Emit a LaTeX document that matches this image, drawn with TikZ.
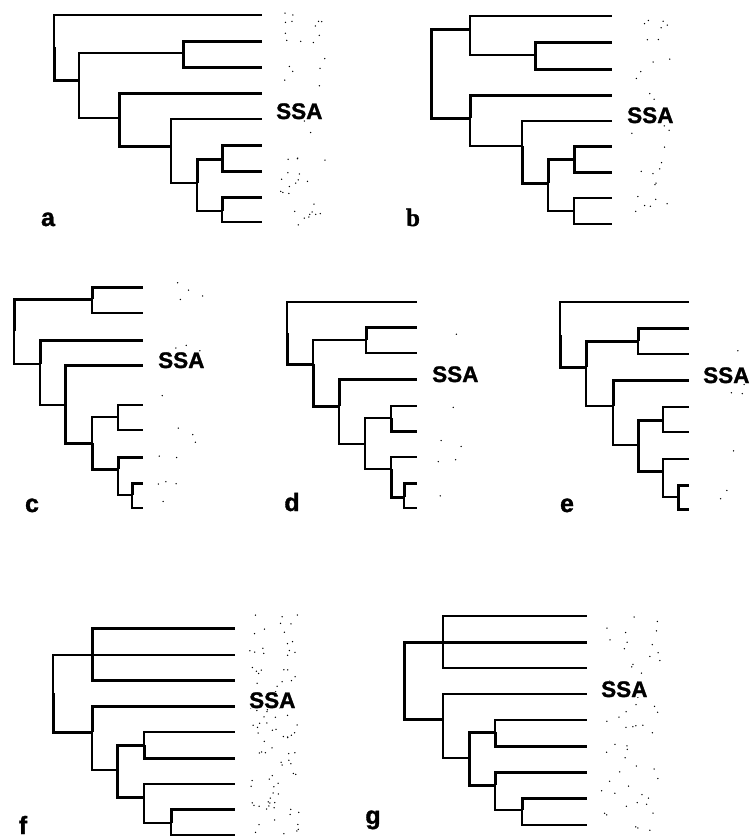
\documentclass[tikz,border=0pt]{standalone}
\usepackage{fontspec}
\setsansfont{Liberation Sans}[BoldFeatures = {FakeBold = 1.3}]
\newfontfamily\serifLabel{Liberation Serif}[BoldFeatures = {FakeBold = 1.3}]
\usetikzlibrary{calc}

\begin{document}
\begin{tikzpicture} [x = 1pt, y = -1pt,
	thinBranch/.style = {line width = 1.8pt},
	boldBranch/.style = {line width = 3pt},
	panelLabel/.style = {inner sep = 0pt, anchor = base, font = \sffamily\bfseries\fontsize{25}{27}\selectfont},
	ssaLabel/.style = {inner sep = 0pt, anchor = base west, fill = white, font = \sffamily\bfseries\fontsize{22.5}{25}\selectfont},
	speck/.style = {fill = black}]

	\useasboundingbox (0, 0) rectangle (755, 838);

		% Define coordinates.

	%tree a
	\coordinate (ar) at (54, 47);
	\coordinate (an1) at (79, 80);
	\coordinate (an2) at (183, 53);
	\coordinate (an3) at (119, 118);
	\coordinate (an4) at (171, 146);
	\coordinate (an5) at (197, 183);
	\coordinate (an6) at (222, 159);
	\coordinate (an7) at (222, 211);
	\coordinate (a1) at (262, 15);  \coordinate (a2) at (262, 41);  \coordinate (a3) at (262, 67);
	\coordinate (a4) at (262, 93);  \coordinate (a5) at (262, 119); \coordinate (a6) at (262, 145);
	\coordinate (a7) at (262, 171); \coordinate (a8) at (262, 197); \coordinate (a9) at (262, 222);

	%tree b
	\coordinate (br) at (431, 73);
	\coordinate (bn1) at (470, 29);
	\coordinate (bn2) at (470, 118);
	\coordinate (bn3) at (535, 55);
	\coordinate (bn4) at (522, 146);
	\coordinate (bn5) at (548, 183);
	\coordinate (bn6) at (574, 159);
	\coordinate (bn7) at (574, 211);
	\coordinate (b1) at (612, 16);  \coordinate (b2) at (612, 42);  \coordinate (b3) at (612, 69);
	\coordinate (b4) at (612, 95);  \coordinate (b5) at (612, 121); \coordinate (b6) at (612, 146);
	\coordinate (b7) at (612, 172); \coordinate (b8) at (612, 198); \coordinate (b9) at (612, 224);

	%tree c
	\coordinate (cr) at (14, 331);
	\coordinate (cn1) at (92, 299);
	\coordinate (cn2) at (40, 364);
	\coordinate (cn3) at (65, 405);
	\coordinate (cn4) at (92, 443);
	\coordinate (cn5) at (118, 417);
	\coordinate (cn6) at (118, 469);
	\coordinate (cn7) at (132, 495);
	\coordinate (c1) at (143, 287); \coordinate (c2) at (143, 313); \coordinate (c3) at (143, 340);
	\coordinate (c4) at (143, 365); \coordinate (c5) at (143, 405); \coordinate (c6) at (143, 430);
	\coordinate (c7) at (143, 457); \coordinate (c8) at (143, 483); \coordinate (c9) at (143, 508);

	%tree d
	\coordinate (dr) at (287, 333);
	\coordinate (dn1) at (313, 364);
	\coordinate (dn2) at (366, 340);
	\coordinate (dn3) at (339, 406);
	\coordinate (dn4) at (365, 444);
	\coordinate (dn5) at (391, 418);
	\coordinate (dn6) at (391, 469);
	\coordinate (dn7) at (404, 497);
	\coordinate (d1) at (417, 302); \coordinate (d2) at (417, 327); \coordinate (d3) at (417, 353);
	\coordinate (d4) at (417, 379); \coordinate (d5) at (417, 406); \coordinate (d6) at (417, 431);
	\coordinate (d7) at (417, 457); \coordinate (d8) at (417, 483); \coordinate (d9) at (417, 508);

	%tree e
	\coordinate (er) at (560, 335);
	\coordinate (en1) at (586, 367);
	\coordinate (en2) at (638, 341);
	\coordinate (en3) at (613, 406);
	\coordinate (en4) at (638, 445);
	\coordinate (en5) at (663, 420);
	\coordinate (en6) at (663, 471);
	\coordinate (en7) at (678, 497);
	\coordinate (e1) at (689, 302); \coordinate (e2) at (689, 328); \coordinate (e3) at (689, 354);
	\coordinate (e4) at (689, 380); \coordinate (e5) at (689, 407); \coordinate (e6) at (689, 432);
	\coordinate (e7) at (689, 459); \coordinate (e8) at (689, 485); \coordinate (e9) at (689, 509);

	%tree f
	\coordinate (fr) at (53, 693);
	\coordinate (fn1) at (92, 655);
	\coordinate (fn2) at (92, 732);
	\coordinate (fn3) at (117, 770);
	\coordinate (fn4) at (144, 745);
	\coordinate (fn5) at (144, 797);
	\coordinate (fn6) at (171, 823);
	\coordinate (f1) at (235, 628); \coordinate (f2) at (235, 655); \coordinate (f3) at (235, 680);
	\coordinate (f4) at (235, 706); \coordinate (f5) at (235, 732); \coordinate (f6) at (235, 758);
	\coordinate (f7) at (235, 784); \coordinate (f8) at (235, 809); \coordinate (f9) at (235, 835);

	%tree g
	\coordinate (gr) at (404, 680);
	\coordinate (gn1) at (443, 642);
	\coordinate (gn2) at (443, 719);
	\coordinate (gn3) at (469, 758);
	\coordinate (gn4) at (495, 732);
	\coordinate (gn5) at (495, 785);
	\coordinate (gn6) at (522, 810);
	\coordinate (g1) at (587, 616); \coordinate (g2) at (587, 642); \coordinate (g3) at (587, 668);
	\coordinate (g4) at (587, 694); \coordinate (g5) at (587, 720); \coordinate (g6) at (587, 746);
	\coordinate (g7) at (587, 772); \coordinate (g8) at (587, 798); \coordinate (g9) at (587, 825);

% Draw speckles (faded names).

	\pgfmathsetseed{17}
	\foreach \i in {1,...,45} \fill[speck] ({280 + 46*rnd}, {3 + 222*rnd}) circle (0.75);
	\foreach \i in {1,...,30} \fill[speck] ({628 + 45*rnd}, {8 + 220*rnd}) circle (0.75);
	\foreach \i in {1,...,20} \fill[speck] ({158 + 45*rnd}, {275 + 235*rnd}) circle (0.75);
	\foreach \i in {1,...,8} \fill[speck] ({432 + 35*rnd}, {318 + 190*rnd}) circle (0.75);
	\foreach \i in {1,...,7} \fill[speck] ({704 + 45*rnd}, {296 + 214*rnd}) circle (0.75);
	\foreach \i in {1,...,95} \fill[speck] ({249 + 50*rnd}, {612 + 224*rnd}) circle (0.75);
	\foreach \i in {1,...,55} \fill[speck] ({600 + 60*rnd}, {606 + 226*rnd}) circle (0.75);

% Draw branches.

	%tree a
	\draw[thinBranch] (ar) |- (a1);
	\draw[boldBranch] (ar) |- (an1);
	\draw[thinBranch] (an1) |- (an2);
	\draw[thinBranch] (an1) |- (an3);
	\draw[boldBranch] (an2) |- (a2);
	\draw[boldBranch] (an2) |- (a3);
	\draw[boldBranch] (an3) |- (a4);
	\draw[boldBranch] (an3) |- (an4);
	\draw[thinBranch] (an4) |- (a5);
	\draw[thinBranch] (an4) |- (an5);
	\draw[boldBranch] (an5) |- (an6);
	\draw[thinBranch] (an5) |- (an7);
	\draw[boldBranch] (an6) |- (a6);
	\draw[boldBranch] (an6) |- (a7);
	\draw[boldBranch] (an7) |- (a8);
	\draw[thinBranch] (an7) |- (a9);

	%tree b
	\draw[boldBranch] (br) |- (bn1);
	\draw[boldBranch] (br) |- (bn2);
	\draw[thinBranch] (bn1) |- (b1);
	\draw[thinBranch] (bn1) |- (bn3);
	\draw[boldBranch] (bn3) |- (b2);
	\draw[boldBranch] (bn3) |- (b3);
	\draw[boldBranch] (bn2) |- (b4);
	\draw[thinBranch] (bn2) |- (bn4);
	\draw[thinBranch] (bn4) |- (b5);
	\draw[boldBranch] (bn4) |- (bn5);
	\draw[boldBranch] (bn5) |- (bn6);
	\draw[thinBranch] (bn5) |- (bn7);
	\draw[boldBranch] (bn6) |- (b6);
	\draw[boldBranch] (bn6) |- (b7);
	\draw[thinBranch] (bn7) |- (b8);
	\draw[thinBranch] (bn7) |- (b9);

	%tree c
	\draw[boldBranch] (cr) |- (cn1);
	\draw[thinBranch] (cr) |- (cn2);
	\draw[boldBranch] (cn1) |- (c1);
	\draw[thinBranch] (cn1) |- (c2);
	\draw[boldBranch] (cn2) |- (c3);
	\draw[thinBranch] (cn2) |- (cn3);
	\draw[boldBranch] (cn3) |- (c4);
	\draw[boldBranch] (cn3) |- (cn4);
	\draw[thinBranch] (cn4) |- (cn5);
	\draw[boldBranch] (cn4) |- (cn6);
	\draw[thinBranch] (cn5) |- (c5);
	\draw[thinBranch] (cn5) |- (c6);
	\draw[boldBranch] (cn6) |- (c7);
	\draw[thinBranch] (cn6) |- (cn7);
	\draw[boldBranch] (cn7) |- (c8);
	\draw[thinBranch] (cn7) |- (c9);

	%tree d
	\draw[thinBranch] (dr) |- (d1);
	\draw[boldBranch] (dr) |- (dn1);
	\draw[thinBranch] (dn1) |- (dn2);
	\draw[boldBranch] (dn1) |- (dn3);
	\draw[boldBranch] (dn2) |- (d2);
	\draw[thinBranch] (dn2) |- (d3);
	\draw[boldBranch] (dn3) |- (d4);
	\draw[thinBranch] (dn3) |- (dn4);
	\draw[thinBranch] (dn4) |- (dn5);
	\draw[thinBranch] (dn4) |- (dn6);
	\draw[thinBranch] (dn5) |- (d5);
	\draw[boldBranch] (dn5) |- (d6);
	\draw[thinBranch] (dn6) |- (d7);
	\draw[boldBranch] (dn6) |- (dn7);
	\draw[boldBranch] (dn7) |- (d8);
	\draw[thinBranch] (dn7) |- (d9);

	%tree e
	\draw[thinBranch] (er) |- (e1);
	\draw[boldBranch] (er) |- (en1);
	\draw[boldBranch] (en1) |- (en2);
	\draw[thinBranch] (en1) |- (en3);
	\draw[boldBranch] (en2) |- (e2);
	\draw[thinBranch] (en2) |- (e3);
	\draw[boldBranch] (en3) |- (e4);
	\draw[thinBranch] (en3) |- (en4);
	\draw[boldBranch] (en4) |- (en5);
	\draw[boldBranch] (en4) |- (en6);
	\draw[thinBranch] (en5) |- (e5);
	\draw[thinBranch] (en5) |- (e6);
	\draw[thinBranch] (en6) |- (e7);
	\draw[thinBranch] (en6) |- (en7);
	\draw[boldBranch] (en7) |- (e8);
	\draw[boldBranch] (en7) |- (e9);

	%tree f
	\draw[thinBranch] (fr) |- (f2);
	\draw[thinBranch] (fr) |- (fn1);
	\draw[boldBranch] (fr) |- (fn2);
	\draw[boldBranch] (fn1) |- (f1);
	\draw[boldBranch] (fn1) |- (f3);
	\draw[boldBranch] (fn2) |- (f4);
	\draw[thinBranch] (fn2) |- (fn3);
	\draw[boldBranch] (fn3) |- (fn4);
	\draw[boldBranch] (fn3) |- (fn5);
	\draw[thinBranch] (fn4) |- (f5);
	\draw[boldBranch] (fn4) |- (f6);
	\draw[thinBranch] (fn5) |- (f7);
	\draw[thinBranch] (fn5) |- (fn6);
	\draw[boldBranch] (fn6) |- (f8);
	\draw[thinBranch] (fn6) |- (f9);

	%tree g
	\draw[boldBranch] (gr) |- (g2);
	\draw[boldBranch] (gr) |- (gn1);
	\draw[boldBranch] (gr) |- (gn2);
	\draw[thinBranch] (gn1) |- (g1);
	\draw[thinBranch] (gn1) |- (g3);
	\draw[thinBranch] (gn2) |- (g4);
	\draw[thinBranch] (gn2) |- (gn3);
	\draw[boldBranch] (gn3) |- (gn4);
	\draw[boldBranch] (gn3) |- (gn5);
	\draw[thinBranch] (gn4) |- (g5);
	\draw[boldBranch] (gn4) |- (g6);
	\draw[boldBranch] (gn5) |- (g7);
	\draw[thinBranch] (gn5) |- (gn6);
	\draw[boldBranch] (gn6) |- (g8);
	\draw[thinBranch] (gn6) |- (g9);

% Draw labels.

	\node[ssaLabel] (ssaA) at (276, 119) {SSA};
	\node[ssaLabel] (ssaB) at (627, 123) {SSA};
	\node[ssaLabel] (ssaC) at (158, 368) {SSA};
	\node[ssaLabel] (ssaD) at (432, 382) {SSA};
	\node[ssaLabel] (ssaE) at (703, 383) {SSA};
	\node[ssaLabel] (ssaF) at (249, 708) {SSA};
	\node[ssaLabel] (ssaG) at (601, 697) {SSA};

	\node[panelLabel] (labA) at (48, 226) {a};
	\node[panelLabel, font = \serifLabel\bfseries\fontsize{25}{27}\selectfont] (labB) at (413, 226) {b};
	\node[panelLabel] (labC) at (32, 512) {c};
	\node[panelLabel] (labD) at (292, 511) {d};
	\node[panelLabel] (labE) at (567, 512) {e};
	\node[panelLabel] (labF) at (23, 834) {f};
	\node[panelLabel] (labG) at (373, 824) {g};

\end{tikzpicture}
\end{document}
